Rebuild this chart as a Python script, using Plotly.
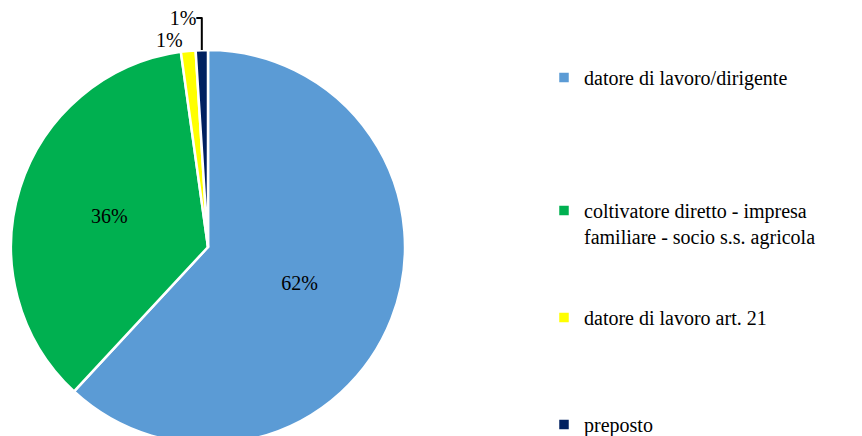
import plotly.graph_objects as go

categories = ["datore di lavoro/dirigente",
              "coltivatore diretto - impresa<br>familiare - socio s.s. agricola",
              "datore di lavoro art. 21",
              "preposto"]
values = [61.9, 35.9, 1.2, 1.0]
colors = ["#5B9BD5", "#00B050", "#FFFF00", "#002060"]
pad_lines = [4, 2, 3, 0]

legend_labels = [c + "<br>&#160;" * n for c, n in zip(categories, pad_lines)]

W, H = 862, 436
FS = 20
fig = go.Figure(go.Pie(
    labels=legend_labels,
    values=values,
    sort=False,
    direction="clockwise",
    rotation=0,
    marker=dict(colors=colors, line=dict(color="white", width=2.5)),
    texttemplate="%{percent:.0%}",
    textposition=["inside", "inside", "outside", "outside"],
    insidetextorientation="horizontal",
    textfont=dict(family="Liberation Serif", size=FS, color="black"),
    automargin=False,
    hoverinfo="percent",
    domain=dict(x=[0, 400 / W], y=[0, 1]),
))

fig.update_layout(
    width=W, height=H,
    margin=dict(l=0, r=0, t=42, b=0),
    paper_bgcolor="white",
    font=dict(family="Liberation Serif", size=FS, color="black"),
    legend=dict(x=536 / W, xanchor="left", y=0.9746, yanchor="top",
                valign="top",
                font=dict(family="Liberation Serif", size=FS, color="black"),
                bgcolor="rgba(0,0,0,0)"),
    showlegend=True,
)

fig.write_html("out.html")
